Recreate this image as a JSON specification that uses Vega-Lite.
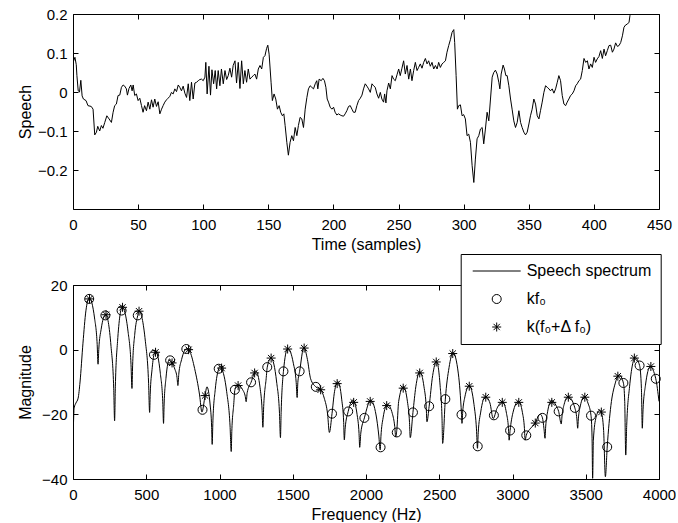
{
"$schema":"https://vega.github.io/schema/vega-lite/v6.json",
"background":"white",
"padding":{"left":17,"top":7,"right":0,"bottom":0},
"bounds":"flush",
"spacing":76,
"config":{
 "font":"Liberation Sans",
 "view":{"stroke":null},
 "axis":{"domainColor":"black","domainWidth":1,"tickColor":"black","tickWidth":1,"tickSize":-5,"labelColor":"black","titleColor":"black","labelFont":"Liberation Sans","titleFont":"Liberation Sans","labelFontSize":15,"titleFontSize":16,"titleFontWeight":"normal","grid":false,"labelFlush":false,"labelOverlap":false},
 "axisX":{"labelPadding":13,"titlePadding":4},
 "axisY":{"labelPadding":11}
},
"datasets":{
"wave":[
{"s":0,"v":0.075},{"s":1.5,"v":0.089},{"s":2.5,"v":0.07},{"s":3,"v":0.042},{"s":4,"v":0.003},{"s":5,"v":0},{"s":6,"v":0.03},{"s":7,"v":-0.01},{"s":8,"v":-0.018},{"s":10,"v":-0.022},{"s":11.5,"v":-0.035},{"s":14,"v":-0.037},{"s":15.4,"v":-0.044},{"s":16.7,"v":-0.11},{"s":18,"v":-0.103},{"s":19,"v":-0.088},{"s":20.5,"v":-0.1},{"s":21.8,"v":-0.086},{"s":23,"v":-0.093},{"s":24.4,"v":-0.078},{"s":26,"v":-0.061},{"s":27.7,"v":-0.069},{"s":29.5,"v":-0.078},{"s":30.8,"v":-0.052},{"s":32,"v":-0.035},{"s":33.3,"v":-0.031},{"s":34.6,"v":-0.009},{"s":35.9,"v":-0.008},{"s":37.2,"v":0.012},{"s":38.5,"v":0.018},{"s":39.7,"v":0.015},{"s":41,"v":0.008},{"s":41.8,"v":-0.008},{"s":43,"v":0.009},{"s":44.4,"v":0.018},{"s":45.4,"v":0.003},{"s":46.2,"v":0.018},{"s":47.4,"v":-0.009},{"s":48.7,"v":-0.005},{"s":50,"v":-0.022},{"s":51.3,"v":-0.016},{"s":52.6,"v":-0.035},{"s":53.8,"v":-0.052},{"s":55,"v":-0.035},{"s":56.4,"v":-0.048},{"s":57.7,"v":-0.026},{"s":59,"v":-0.044},{"s":60.3,"v":-0.02},{"s":61.5,"v":-0.039},{"s":62.8,"v":-0.018},{"s":64.1,"v":-0.037},{"s":65.4,"v":-0.025},{"s":66.7,"v":-0.056},{"s":68,"v":-0.044},{"s":69.2,"v":-0.035},{"s":70.5,"v":-0.026},{"s":71.8,"v":-0.02},{"s":73,"v":-0.016},{"s":74.4,"v":-0.011},{"s":75.6,"v":-0.001},{"s":76.9,"v":-0.005},{"s":78.2,"v":0.008},{"s":79.5,"v":0.001},{"s":80.8,"v":0.018},{"s":82,"v":0.012},{"s":83.3,"v":0.003},{"s":84.6,"v":0.015},{"s":85.9,"v":-0.003},{"s":87.2,"v":-0.014},{"s":88.5,"v":0.021},{"s":89.7,"v":-0.022},{"s":91,"v":0.025},{"s":92.3,"v":-0.018},{"s":93.6,"v":0.023},{"s":94.9,"v":0.025},{"s":96.2,"v":0.029},{"s":97.4,"v":0.032},{"s":98.7,"v":0.033},{"s":100,"v":0.029},{"s":101.3,"v":0.038},{"s":102,"v":0.076},{"s":103,"v":-0.005},{"s":104.4,"v":0.066},{"s":105.6,"v":-0.008},{"s":106.7,"v":0.057},{"s":108,"v":0.021},{"s":109.2,"v":0.055},{"s":110.3,"v":0.008},{"s":111.5,"v":0.055},{"s":112.8,"v":0.016},{"s":114,"v":0.059},{"s":115.4,"v":0.021},{"s":116.7,"v":0.055},{"s":118,"v":0.032},{"s":119.2,"v":0.042},{"s":120.5,"v":0.061},{"s":121.8,"v":0.038},{"s":123,"v":0.068},{"s":124.4,"v":0.08},{"s":125.6,"v":0.023},{"s":126.9,"v":0.076},{"s":128.2,"v":0.009},{"s":129.5,"v":0.08},{"s":130.8,"v":0.021},{"s":132,"v":0.055},{"s":133.3,"v":0.025},{"s":134.6,"v":0.059},{"s":135.9,"v":0.033},{"s":137.2,"v":0.038},{"s":138.5,"v":0.042},{"s":139.7,"v":0.046},{"s":141,"v":0.033},{"s":142.3,"v":0.059},{"s":143.6,"v":0.068},{"s":144.9,"v":0.059},{"s":146.2,"v":0.089},{"s":147.4,"v":0.093},{"s":148.7,"v":0.112},{"s":149.6,"v":0.12},{"s":150.6,"v":0.097},
{"s":152.1,"v":0.025},{"s":153.1,"v":-0.022},{"s":154.4,"v":-0.005},{"s":155.7,"v":-0.018},{"s":157,"v":-0.044},{"s":158.3,"v":-0.035},{"s":159.5,"v":-0.052},{"s":160.8,"v":-0.061},{"s":161.9,"v":-0.056},{"s":162.9,"v":-0.086},{"s":164.2,"v":-0.129},{"s":165.4,"v":-0.162},{"s":166.7,"v":-0.129},{"s":168,"v":-0.112},{"s":169.3,"v":-0.125},{"s":170.6,"v":-0.091},{"s":171.9,"v":-0.112},{"s":173.1,"v":-0.086},{"s":174.4,"v":-0.065},{"s":175.7,"v":-0.069},{"s":177,"v":-0.091},{"s":178.3,"v":-0.044},{"s":179.6,"v":-0.014},{"s":180.8,"v":0.008},{"s":182.1,"v":0.016},{"s":183.4,"v":0.012},{"s":184.7,"v":0.008},{"s":186,"v":0.021},{"s":187.2,"v":0.029},{"s":188,"v":0.008},{"s":189,"v":0.033},{"s":190.6,"v":0.029},{"s":191.9,"v":0.035},{"s":193.1,"v":0.029},{"s":194.2,"v":0.012},{"s":195.2,"v":-0.018},{"s":196.2,"v":-0.026},{"s":197.5,"v":-0.039},{"s":198.8,"v":-0.044},{"s":200.1,"v":-0.039},{"s":201.3,"v":-0.052},{"s":202.6,"v":-0.059},{"s":203.9,"v":-0.056},{"s":205.2,"v":-0.059},{"s":206.5,"v":-0.061},{"s":207.8,"v":-0.062},{"s":209,"v":-0.056},{"s":210.3,"v":-0.048},{"s":211.6,"v":-0.037},{"s":212.9,"v":-0.035},{"s":214.2,"v":-0.044},{"s":215.4,"v":-0.052},{"s":216.7,"v":-0.052},{"s":218,"v":-0.035},{"s":219.3,"v":-0.022},{"s":220.6,"v":-0.016},{"s":221.9,"v":-0.008},{"s":223.1,"v":0.008},{"s":224.4,"v":0.021},{"s":225.7,"v":0.015},{"s":227,"v":0.008},{"s":228.3,"v":-0.001},{"s":229.6,"v":0.021},{"s":230.8,"v":0.016},{"s":232.1,"v":0.012},{"s":233.4,"v":-0.005},{"s":234.7,"v":-0.016},{"s":236,"v":-0.001},{"s":237.2,"v":-0.018},{"s":238.5,"v":-0.026},{"s":239.3,"v":-0.005},{"s":240.3,"v":-0.028},{"s":241.1,"v":0.003},{"s":242.4,"v":0.023},{"s":243.7,"v":0.008},{"s":245,"v":0.042},{"s":246.2,"v":0.033},{"s":247.5,"v":0.029},{"s":248.8,"v":0.044},{"s":250.1,"v":0.059},{"s":251.3,"v":0.042},{"s":252.6,"v":0.061},{"s":253.9,"v":0.08},{"s":255.2,"v":0.046},{"s":256.5,"v":0.068},{"s":257.8,"v":0.033},{"s":259.1,"v":0.059},{"s":260.3,"v":0.029},{"s":261.6,"v":0.055},{"s":262.9,"v":0.076},{"s":264.2,"v":0.055},{"s":265.4,"v":0.063},{"s":266.7,"v":0.072},{"s":268,"v":0.061},{"s":269.3,"v":0.076},{"s":270.6,"v":0.086},{"s":271.9,"v":0.072},{"s":273.1,"v":0.08},{"s":274.4,"v":0.066},{"s":275.7,"v":0.076},{"s":277,"v":0.059},{"s":278.3,"v":0.068},{"s":279.6,"v":0.059},{"s":280.8,"v":0.076},{"s":282.1,"v":0.063},{"s":283.4,"v":0.072},{"s":284.7,"v":0.076},{"s":286,"v":0.08},{"s":287.2,"v":0.102},{"s":288.5,"v":0.119},{"s":289.8,"v":0.134},{"s":291.1,"v":0.153},{"s":292.4,"v":0.16},{"s":293.1,"v":0.127},{"s":294.2,"v":0.042},{"s":295.2,"v":-0.044},{"s":296.2,"v":-0.035},{"s":297.5,"v":-0.033},{"s":298.8,"v":-0.061},{"s":300,"v":-0.058},
{"s":301.3,"v":-0.069},{"s":302.6,"v":-0.112},{"s":303.9,"v":-0.108},{"s":305.2,"v":-0.129},{"s":306.5,"v":-0.189},{"s":307.8,"v":-0.232},{"s":309,"v":-0.172},{"s":310.3,"v":-0.12},{"s":311.6,"v":-0.112},{"s":312.9,"v":-0.095},{"s":314.2,"v":-0.091},{"s":315.4,"v":-0.133},{"s":316.7,"v":-0.095},{"s":318,"v":-0.052},{"s":319.3,"v":-0.074},{"s":320.6,"v":-0.018},{"s":321.9,"v":0.038},{"s":323.1,"v":0.05},{"s":324.4,"v":0.056},{"s":325.7,"v":0.046},{"s":327,"v":0.025},{"s":327.8,"v":0.008},{"s":328.8,"v":0.046},{"s":330.3,"v":0.069},{"s":331.3,"v":0.059},{"s":332.4,"v":0.042},{"s":333.4,"v":0.042},{"s":334.7,"v":0.016},{"s":336,"v":-0.018},{"s":337.2,"v":-0.044},{"s":338.5,"v":-0.074},{"s":339.8,"v":-0.091},{"s":341.1,"v":-0.078},{"s":342.4,"v":-0.048},{"s":343.7,"v":-0.078},{"s":344.9,"v":-0.091},{"s":346.2,"v":-0.103},{"s":347.5,"v":-0.11},{"s":348.8,"v":-0.103},{"s":350.1,"v":-0.082},{"s":351.3,"v":-0.061},{"s":352.6,"v":-0.044},{"s":353.9,"v":-0.018},{"s":355.2,"v":-0.031},{"s":356.5,"v":-0.061},{"s":357.8,"v":-0.069},{"s":359,"v":-0.048},{"s":360.3,"v":-0.026},{"s":361.6,"v":-0.001},{"s":362.9,"v":0.016},{"s":364.2,"v":0.012},{"s":365.5,"v":0.008},{"s":366.7,"v":0.003},{"s":368,"v":0.008},{"s":369.3,"v":-0.003},{"s":370.6,"v":0.008},{"s":371.9,"v":0.025},{"s":373.1,"v":0.042},{"s":374.4,"v":0.029},{"s":375.7,"v":-0.009},{"s":377,"v":-0.031},{"s":378.3,"v":-0.035},{"s":379.5,"v":-0.026},{"s":380.8,"v":-0.018},{"s":382.1,"v":-0.009},{"s":383.4,"v":-0.005},{"s":384.7,"v":0.003},{"s":386,"v":0.016},{"s":387.2,"v":0.021},{"s":388.5,"v":0.029},{"s":389.8,"v":0.033},{"s":391.1,"v":0.055},{"s":392.4,"v":0.086},{"s":393.7,"v":0.076},{"s":395,"v":0.08},{"s":396.2,"v":0.059},{"s":397.5,"v":0.072},{"s":398.8,"v":0.063},{"s":400.1,"v":0.089},{"s":401.3,"v":0.076},{"s":402.6,"v":0.085},{"s":403.9,"v":0.091},{"s":405.2,"v":0.106},{"s":406.5,"v":0.086},{"s":407.8,"v":0.11},{"s":409,"v":0.093},{"s":410.3,"v":0.106},{"s":411.6,"v":0.119},{"s":412.9,"v":0.12},{"s":414.2,"v":0.102},{"s":415.4,"v":0.11},{"s":416.7,"v":0.126},{"s":418,"v":0.117},{"s":419.3,"v":0.119},{"s":420.6,"v":0.127},{"s":421.9,"v":0.144},{"s":423.1,"v":0.166},{"s":424.4,"v":0.172},{"s":425.7,"v":0.174},{"s":427,"v":0.179},{"s":427.7,"v":0.196},{"s":429,"v":0.25}
],
"spec":[
{"f":0,"db":-29},{"f":8,"db":-18},{"f":20,"db":-16.5},{"f":35,"db":-15},{"f":48,"db":-10},{"f":68,"db":2},{"f":88,"db":12},{"f":111,"db":16},{"f":147,"db":9.8},{"f":165,"db":1.6},{"f":171,"db":-4.5},{"f":176,"db":0.1},{"f":192,"db":6.3},{"f":223,"db":10.9},{"f":259.6,"db":1},{"f":278,"db":-12.1},{"f":284,"db":-22},{"f":289,"db":-11.5},{"f":304,"db":2.5},{"f":336,"db":13.1},{"f":376,"db":5.5},{"f":396,"db":-4.6},{"f":402.5,"db":-12},{"f":407,"db":-4.8},{"f":421.5,"db":4.8},{"f":442,"db":10.6},{"f":450,"db":12},{"f":494,"db":2.6},{"f":515.7,"db":-10},{"f":523,"db":-19.4},{"f":527,"db":-13.8},{"f":539.4,"db":-6.2},{"f":552.5,"db":-1.6},{"f":564,"db":-0.6},{"f":596,"db":-7.3},{"f":612.6,"db":-16.1},{"f":618,"db":-22.8},{"f":622,"db":-16.8},{"f":634.4,"db":-8.9},{"f":659,"db":-2.9},{"f":676,"db":-4.1},{"f":695,"db":-6},{"f":710,"db":-8.6},{"f":716,"db":-11.1},{"f":722,"db":-7.6},{"f":741,"db":-3.1},{"f":778,"db":0.4},{"f":800,"db":-0.8},{"f":830,"db":-5.8},{"f":864,"db":-14},{"f":880,"db":-19.3},{"f":901.6,"db":-14.2},{"f":914,"db":-11.5},{"f":935.6,"db":-16.8},{"f":946.4,"db":-24},{"f":950,"db":-29.3},{"f":955,"db":-22},{"f":971,"db":-12.3},{"f":994.5,"db":-5.9},{"f":1003,"db":-5},{"f":1014,"db":-5.7},{"f":1049,"db":-13},{"f":1072,"db":-23.6},{"f":1080,"db":-31.5},{"f":1084,"db":-25.3},{"f":1097,"db":-17},{"f":1105,"db":-12.4},{"f":1122,"db":-10.8},{"f":1158,"db":-12.4},{"f":1176,"db":-14.5},{"f":1182,"db":-16.1},{"f":1189,"db":-13.3},{"f":1215.5,"db":-10.1},{"f":1248,"db":-6.6},{"f":1277,"db":-11.8},{"f":1291,"db":-18.8},{"f":1296,"db":-24},{"f":1301.6,"db":-17.6},{"f":1318.4,"db":-9},{"f":1326,"db":-5.4},{"f":1352,"db":-2.6},{"f":1390,"db":-10},{"f":1409.6,"db":-19.8},{"f":1416,"db":-27.2},{"f":1421,"db":-19},{"f":1436.5,"db":-6.7},{"f":1466,"db":0.4},{"f":1504,"db":-4.2},{"f":1523.6,"db":-10.2},{"f":1530,"db":-14.8},{"f":1534.6,"db":-10.2},{"f":1547,"db":-6.7},{"f":1576,"db":0.7},{"f":1600,"db":-3},{"f":1622,"db":-9},{"f":1657.5,"db":-11.5},{"f":1690.5,"db":-12.4},{"f":1715,"db":-15},{"f":1738,"db":-20},{"f":1750,"db":-25.6},{"f":1768,"db":-19.8},{"f":1785,"db":-13},{"f":1808,"db":-9.9},{"f":1834,"db":-15.3},{"f":1847.6,"db":-22.5},{"f":1852,"db":-27.9},{"f":1858,"db":-24.2},{"f":1878.5,"db":-19.1},{"f":1912,"db":-15.6},{"f":1939,"db":-20},{"f":1952.5,"db":-25.9},{"f":1957,"db":-30.2},{"f":1964.5,"db":-25.8},{"f":1989,"db":-21.1},{"f":2032,"db":-15.6},{"f":2068.6,"db":-20.2},{"f":2087,"db":-26.4},{"f":2097,"db":-31},{"f":2102,"db":-26.8},{"f":2116.6,"db":-21.1},{"f":2146,"db":-16.9},{"f":2180,"db":-19.8},{"f":2196,"db":-23.7},{"f":2203,"db":-27},{"f":2210,"db":-25},{"f":2223,"db":-16},{"f":2255,"db":-11.4},{"f":2283,"db":-16.1},{"f":2297,"db":-22.5},{"f":2302,"db":-27.2},{"f":2320.5,"db":-19.4},{"f":2340,"db":-11.5},{"f":2367,"db":-6.8},{"f":2396,"db":-11.5},{"f":2411,"db":-17.7},{"f":2416,"db":-22.3},{"f":2431,"db":-17.5},{"f":2455,"db":-8},{"f":2481,"db":-3.6},{"f":2506,"db":-11.2},{"f":2519,"db":-21.4},{"f":2523,"db":-29},{"f":2541.5,"db":-15.3},{"f":2567,"db":-5.5},{"f":2594,"db":-0.9},{"f":2630.6,"db":-7.5},{"f":2652,"db":-20.1},{"f":2655,"db":-22.8},{"f":2660,"db":-19.3},{"f":2675,"db":-14.6},{"f":2705,"db":-11.1},{"f":2737,"db":-16.9},{"f":2754,"db":-24.5},{"f":2761,"db":-30.5},{"f":2766,"db":-25.7},{"f":2783,"db":-19.3},{"f":2815,"db":-14.5},{"f":2846,"db":-16.5},{"f":2868,"db":-21.3},{"f":2893.6,"db":-18.2},{"f":2932,"db":-16.1},{"f":2959,"db":-19.7},{"f":2972.5,"db":-24.4},{"f":2977,"db":-28},{"f":2983.5,"db":-25},{"f":3003,"db":-19.5},{"f":3041,"db":-15.9},{"f":3068,"db":-19.5},{"f":3081.5,"db":-24.4},{"f":3086,"db":-28},{"f":3094,"db":-26.5},{"f":3120,"db":-24.5},{"f":3156,"db":-22.7},{"f":3180,"db":-20.2},{"f":3190,"db":-20},{"f":3204.5,"db":-21.1},{"f":3215,"db":-24.5},{"f":3222,"db":-27.4},{"f":3226.4,"db":-23.9},{"f":3239.6,"db":-19.2},{"f":3266,"db":-15.7},{"f":3300,"db":-17.5},{"f":3315,"db":-19.1},{"f":3333,"db":-23},{"f":3338,"db":-20.5},{"f":3352,"db":-17},{"f":3380,"db":-14.5},{"f":3425.5,"db":-18},{"f":3439.5,"db":-21.4},{"f":3445,"db":-24.3},{"f":3449.5,"db":-21.4},{"f":3463,"db":-17.4},{"f":3490,"db":-14.5},{"f":3515,"db":-16.5},{"f":3536,"db":-20.4},{"f":3543,"db":-27},{"f":3547,"db":-39.8},{"f":3552,"db":-28},{"f":3570,"db":-21},{"f":3595,"db":-18.7},{"f":3606,"db":-19.3},{"f":3622,"db":-25},{"f":3634,"db":-39.3},{"f":3646.5,"db":-30.1},{"f":3671.6,"db":-17.3},{"f":3700,"db":-10.6},{"f":3728,"db":-7.8},{"f":3757,"db":-10.3},{"f":3766,"db":-16},{"f":3773,"db":-32.6},{"f":3779.5,"db":-23.5},{"f":3799,"db":-11.5},{"f":3838,"db":-2.5},{"f":3867.5,"db":-4.9},{"f":3880,"db":-12},{"f":3886,"db":-24.3},{"f":3891,"db":-18.6},{"f":3907.6,"db":-11},{"f":3940,"db":-5.3},{"f":3978,"db":-9},{"f":4000,"db":-16}
],
"marks":[
{"f":110.5,"db":15.7,"series":"kf₀"},{"f":221,"db":10.6,"series":"kf₀"},{"f":331.5,"db":12.1,"series":"kf₀"},{"f":442,"db":10.6,"series":"kf₀"},{"f":552.5,"db":-1.6,"series":"kf₀"},{"f":663,"db":-3.3,"series":"kf₀"},{"f":773.5,"db":0.2,"series":"kf₀"},{"f":884,"db":-18.6,"series":"kf₀"},{"f":994.5,"db":-5.9,"series":"kf₀"},{"f":1105,"db":-12.4,"series":"kf₀"},{"f":1215.5,"db":-10.1,"series":"kf₀"},{"f":1326,"db":-5.4,"series":"kf₀"},{"f":1436.5,"db":-6.7,"series":"kf₀"},{"f":1547,"db":-6.7,"series":"kf₀"},{"f":1657.5,"db":-11.5,"series":"kf₀"},{"f":1768,"db":-19.8,"series":"kf₀"},{"f":1878.5,"db":-19.1,"series":"kf₀"},{"f":1989,"db":-21.1,"series":"kf₀"},{"f":2099.5,"db":-30.2,"series":"kf₀"},{"f":2210,"db":-25.6,"series":"kf₀"},{"f":2320.5,"db":-19.4,"series":"kf₀"},{"f":2431,"db":-17.5,"series":"kf₀"},{"f":2541.5,"db":-15.3,"series":"kf₀"},{"f":2652,"db":-20.1,"series":"kf₀"},{"f":2762.5,"db":-29.9,"series":"kf₀"},{"f":2873,"db":-20.3,"series":"kf₀"},{"f":2983.5,"db":-25,"series":"kf₀"},{"f":3094,"db":-26.5,"series":"kf₀"},{"f":3204.5,"db":-21.1,"series":"kf₀"},{"f":3315,"db":-19.1,"series":"kf₀"},{"f":3425.5,"db":-18,"series":"kf₀"},{"f":3536,"db":-20.4,"series":"kf₀"},{"f":3646.5,"db":-30.1,"series":"kf₀"},{"f":3757,"db":-10.3,"series":"kf₀"},{"f":3867.5,"db":-4.9,"series":"kf₀"},{"f":3978,"db":-9,"series":"kf₀"},
{"f":112.7,"db":15.7,"series":"k(f₀+Δ f₀)"},{"f":225.4,"db":10.8,"series":"k(f₀+Δ f₀)"},{"f":338.1,"db":13.1,"series":"k(f₀+Δ f₀)"},{"f":450.8,"db":11.9,"series":"k(f₀+Δ f₀)"},{"f":563.5,"db":-0.8,"series":"k(f₀+Δ f₀)"},{"f":676.2,"db":-4.1,"series":"k(f₀+Δ f₀)"},{"f":788.9,"db":0,"series":"k(f₀+Δ f₀)"},{"f":901.6,"db":-14.2,"series":"k(f₀+Δ f₀)"},{"f":1014.3,"db":-5.7,"series":"k(f₀+Δ f₀)"},{"f":1127,"db":-11.1,"series":"k(f₀+Δ f₀)"},{"f":1239.7,"db":-7.2,"series":"k(f₀+Δ f₀)"},{"f":1352.4,"db":-2.6,"series":"k(f₀+Δ f₀)"},{"f":1465.1,"db":0.2,"series":"k(f₀+Δ f₀)"},{"f":1577.8,"db":0.5,"series":"k(f₀+Δ f₀)"},{"f":1690.5,"db":-12.4,"series":"k(f₀+Δ f₀)"},{"f":1803.2,"db":-10.5,"series":"k(f₀+Δ f₀)"},{"f":1915.9,"db":-16.3,"series":"k(f₀+Δ f₀)"},{"f":2028.6,"db":-16,"series":"k(f₀+Δ f₀)"},{"f":2141.3,"db":-17.3,"series":"k(f₀+Δ f₀)"},{"f":2254,"db":-11.9,"series":"k(f₀+Δ f₀)"},{"f":2366.7,"db":-7.2,"series":"k(f₀+Δ f₀)"},{"f":2479.4,"db":-3.8,"series":"k(f₀+Δ f₀)"},{"f":2592.1,"db":-1.2,"series":"k(f₀+Δ f₀)"},{"f":2704.8,"db":-11.3,"series":"k(f₀+Δ f₀)"},{"f":2817.5,"db":-14.7,"series":"k(f₀+Δ f₀)"},{"f":2930.2,"db":-16.3,"series":"k(f₀+Δ f₀)"},{"f":3042.9,"db":-16.3,"series":"k(f₀+Δ f₀)"},{"f":3155.6,"db":-22.7,"series":"k(f₀+Δ f₀)"},{"f":3268.3,"db":-16.3,"series":"k(f₀+Δ f₀)"},{"f":3381,"db":-14.7,"series":"k(f₀+Δ f₀)"},{"f":3493.7,"db":-14.7,"series":"k(f₀+Δ f₀)"},{"f":3606.4,"db":-19.3,"series":"k(f₀+Δ f₀)"},{"f":3719.1,"db":-8.2,"series":"k(f₀+Δ f₀)"},{"f":3831.8,"db":-2.6,"series":"k(f₀+Δ f₀)"},{"f":3944.5,"db":-5.2,"series":"k(f₀+Δ f₀)"}
]
},
"vconcat":[
{
 "width":586,"height":195,
 "data":{"name":"wave"},
 "layer":[
  {"mark":{"type":"line","color":"black","strokeWidth":1,"clip":true},
   "encoding":{
    "x":{"field":"s","type":"quantitative","scale":{"domain":[0,450],"nice":false,"zero":false},"axis":{"orient":"bottom","title":"Time (samples)","values":[0,50,100,150,200,250,300,350,400,450],"format":"d"}},
    "y":{"field":"v","type":"quantitative","scale":{"domain":[-0.3,0.2],"nice":false,"zero":false},"axis":{"orient":"left","title":"Speech","values":[-0.2,-0.1,0,0.1,0.2],"format":"~g","titleX":-40,"titleY":97.5}}
   }},
  {"mark":{"type":"line","opacity":0,"clip":true},
   "encoding":{
    "x":{"field":"s","type":"quantitative","axis":{"orient":"top","labels":false,"title":null,"values":[0,50,100,150,200,250,300,350,400,450]}},
    "y":{"field":"v","type":"quantitative","axis":{"orient":"right","labels":false,"title":null,"values":[-0.2,-0.1,0,0.1,0.2]}}
   }}
 ],
 "resolve":{"axis":{"x":"independent","y":"independent"}}
},
{
 "width":586,"height":194,
 "layer":[
  {"data":{"name":"spec"},
   "mark":{"type":"line","color":"black","strokeWidth":1,"interpolate":"monotone","clip":true},
   "encoding":{
    "x":{"field":"f","type":"quantitative","scale":{"domain":[0,4000],"nice":false,"zero":false},"axis":{"orient":"bottom","title":"Frequency (Hz)","values":[0,500,1000,1500,2000,2500,3000,3500,4000],"format":"d"}},
    "y":{"field":"db","type":"quantitative","scale":{"domain":[-40,20],"nice":false,"zero":false},"axis":{"orient":"left","title":"Magnitude","values":[-40,-20,0,20],"titleX":-40,"titleY":97}}
   }},
  {"data":{"name":"marks"},
   "mark":{"type":"point","filled":false,"color":"black","strokeWidth":1,"opacity":1,"size":81},
   "encoding":{
    "x":{"field":"f","type":"quantitative","axis":{"orient":"top","labels":false,"title":null,"values":[0,500,1000,1500,2000,2500,3000,3500,4000]}},
    "y":{"field":"db","type":"quantitative","axis":{"orient":"right","labels":false,"title":null,"values":[-40,-20,0,20]}},
    "shape":{"field":"series","type":"ordinal","scale":{"domain":["Speech spectrum","kf₀","k(f₀+Δ f₀)"],"range":["M-5.33,0L5.33,0","circle","M0,-1L0,1M-1,0L1,0M-0.7,-0.7L0.7,0.7M-0.7,0.7L0.7,-0.7"]},
      "legend":{"orient":"none","legendX":387.7,"legendY":240,"title":null,"strokeColor":"black","fillColor":"white","padding":9,"rowPadding":12,"symbolOffset":19,"labelOffset":22,"symbolSize":81,"labelFontSize":16,"labelFont":"Liberation Sans","labelColor":"black","symbolStrokeColor":"black","symbolStrokeWidth":1,"labelLimit":0,"cornerRadius":0}}
   }}
 ],
 "resolve":{"axis":{"x":"independent","y":"independent"}}
}
]
}
